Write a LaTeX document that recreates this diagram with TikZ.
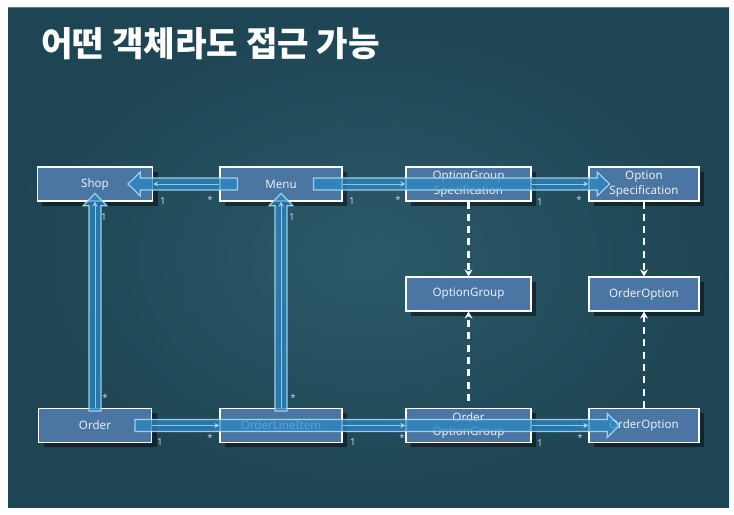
\documentclass[tikz,border=0pt]{standalone}
\usepackage{fontspec}
\setmainfont{Noto Sans}
\newfontfamily\kor{Noto Sans CJK KR}
\usetikzlibrary{calc,arrows.meta,shadows}

\definecolor{bgteal}{HTML}{24505F}
\definecolor{bglight}{HTML}{2F5E6D}
\definecolor{bgdark}{HTML}{1C4150}
\definecolor{boxblue}{HTML}{4B76A3}
\definecolor{boxtext}{HTML}{E8EEF4}
\definecolor{multgray}{HTML}{C9D3D8}
\definecolor{arrowblue}{HTML}{2D87C3}
\definecolor{arrowline}{HTML}{A9DAF2}

\newcommand\boxfont{\fontsize{6.6}{8.5}\selectfont}
\newcommand\multfont{\fontsize{5.5}{6}\selectfont}

% hollow block arrow from #1 to its tip #2
\newcommand\blockarrow[2]{%
  \path[arrowbody] let \p1=(#1), \p2=(#2),
      \n1={atan2(\y2-\y1,\x2-\x1)}, \n2={veclen(\x2-\x1,\y2-\y1)-7pt} in
    ($(\p1)+(\n1+90:3.4pt)$) -- ($(\p1)+(\n1:\n2)+(\n1+90:3.4pt)$)
    -- ($(\p1)+(\n1:\n2)+(\n1+90:6.8pt)$) -- (\p2)
    -- ($(\p1)+(\n1:\n2)+(\n1-90:6.8pt)$) -- ($(\p1)+(\n1:\n2)+(\n1-90:3.4pt)$)
    -- ($(\p1)+(\n1-90:3.4pt)$) -- cycle;}

\tikzset{
  classbox/.style={draw=white, line width=0.6pt, fill=boxblue, text=boxtext,
    font=\boxfont, minimum height=0.68cm, inner sep=1pt, align=center,
    drop shadow={shadow xshift=0.1cm, shadow yshift=-0.1cm, opacity=0.45, fill=black}},
  mult/.style={text=multgray, font=\multfont, inner sep=0pt},
  dep/.style={draw=white, line width=1.3pt, dash pattern=on 4pt off 3pt,
    -{Stealth[length=4pt,width=4.5pt]}},
  assoc/.style={draw=arrowline, line width=0.5pt, draw opacity=0.8,
    -{Stealth[length=3pt,width=3pt]}},
  arrowbody/.style={fill=arrowblue, fill opacity=0.75, draw=arrowline,
    line width=0.7pt, draw opacity=0.9},
}

\begin{document}
\begin{tikzpicture}
  \useasboundingbox (0,0) rectangle (14.68,10.30);
  \fill[white] (0,0) rectangle (14.68,10.30);
  \fill[bgteal] (0.16,0.14) rectangle (14.58,10.14);
  \shade[inner color=bglight, outer color=bgdark, opacity=0.7] (0.16,0.14) rectangle (14.58,10.14);

  \node[anchor=west, text=white, font={\kor\bfseries\fontsize{19.5}{22}\selectfont}] (title) at (0.70,9.42) {어떤 객체라도 접근 가능};

  % classes
  \node[classbox, minimum width=2.30cm] (shop) at (1.90,6.62) {Shop};
  \node[classbox, minimum width=2.44cm] (menu) at (5.62,6.62) {Menu};
  \node[classbox, minimum width=2.50cm] (ogs) at (9.37,6.62) {OptionGroup\\Specification};
  \node[classbox, minimum width=2.20cm] (os) at (12.88,6.62) {Option\\Specification};
  \node[classbox, minimum width=2.50cm] (og) at (9.37,4.42) {OptionGroup};
  \node[classbox, minimum width=2.20cm] (oo1) at (12.88,4.42) {OrderOption};
  \node[classbox, minimum width=2.26cm] (order) at (1.90,1.79) {Order};
  \node[classbox, minimum width=2.44cm] (oli) at (5.62,1.79) {OrderLineItem};
  \node[classbox, minimum width=2.50cm] (oog) at (9.37,1.79) {Order\\OptionGroup};
  \node[classbox, minimum width=2.20cm] (oo2) at (12.88,1.79) {OrderOption};

  % dependencies
  \draw[dep] (ogs.south) -- (og.north);
  \draw[dep] (os.south) -- (oo1.north);
  \draw[dep] ([yshift=0.14cm]oog.north) -- (og.south);
  \draw[dep] (oo2.north) -- (oo1.south);

  % multiplicities
  \node[mult] (m1) at (3.26,6.28) {1};
  \node[mult] (m2) at (4.20,6.30) {*};
  \node[mult] (m3) at (7.04,6.28) {1};
  \node[mult] (m4) at (7.96,6.30) {*};
  \node[mult] (m5) at (10.80,6.26) {1};
  \node[mult] (m6) at (11.58,6.30) {*};
  \node[mult] (m7) at (2.08,5.96) {1};
  \node[mult] (m8) at (2.10,2.34) {*};
  \node[mult] (m9) at (5.84,5.96) {1};
  \node[mult] (m10) at (5.86,2.34) {*};
  \node[mult] (m11) at (3.20,1.46) {1};
  \node[mult] (m12) at (4.20,1.54) {*};
  \node[mult] (m13) at (7.06,1.46) {1};
  \node[mult] (m14) at (8.04,1.54) {*};
  \node[mult] (m15) at (10.80,1.44) {1};
  \node[mult] (m16) at (11.60,1.54) {*};

  % access paths
  \coordinate (p1s) at ([xshift=0.36cm]menu.west);
  \coordinate (p1t) at ([xshift=-0.5cm]shop.east);
  \coordinate (p2s) at ([xshift=-0.58cm]menu.east);
  \coordinate (p2t) at ([xshift=0.42cm]os.west);
  \coordinate (p3s) at ([xshift=-0.34cm]order.east);
  \coordinate (p3t) at ([xshift=0.62cm]oo2.west);
  \coordinate (p4s) at ([yshift=-0.06cm]order.north);
  \coordinate (p4t) at ([yshift=0.16cm]shop.south);
  \coordinate (p5s) at ([yshift=-0.06cm]oli.north);
  \coordinate (p5t) at ([yshift=0.16cm]menu.south);
  \blockarrow{p1s}{p1t}
  \blockarrow{p2s}{p2t}
  \blockarrow{p3s}{p3t}
  \blockarrow{p4s}{p4t}
  \blockarrow{p5s}{p5t}

  % associations
  \draw[assoc] (menu.west) -- (shop.east);
  \draw[assoc] (menu.east) -- (ogs.west);
  \draw[assoc] (ogs.east) -- (os.west);
  \draw[assoc] (order.north) -- (shop.south);
  \draw[assoc] (oli.north) -- (menu.south);
  \draw[assoc] (order.east) -- (oli.west);
  \draw[assoc] (oli.east) -- (oog.west);
  \draw[assoc] (oog.east) -- (oo2.west);
\end{tikzpicture}
\end{document}
